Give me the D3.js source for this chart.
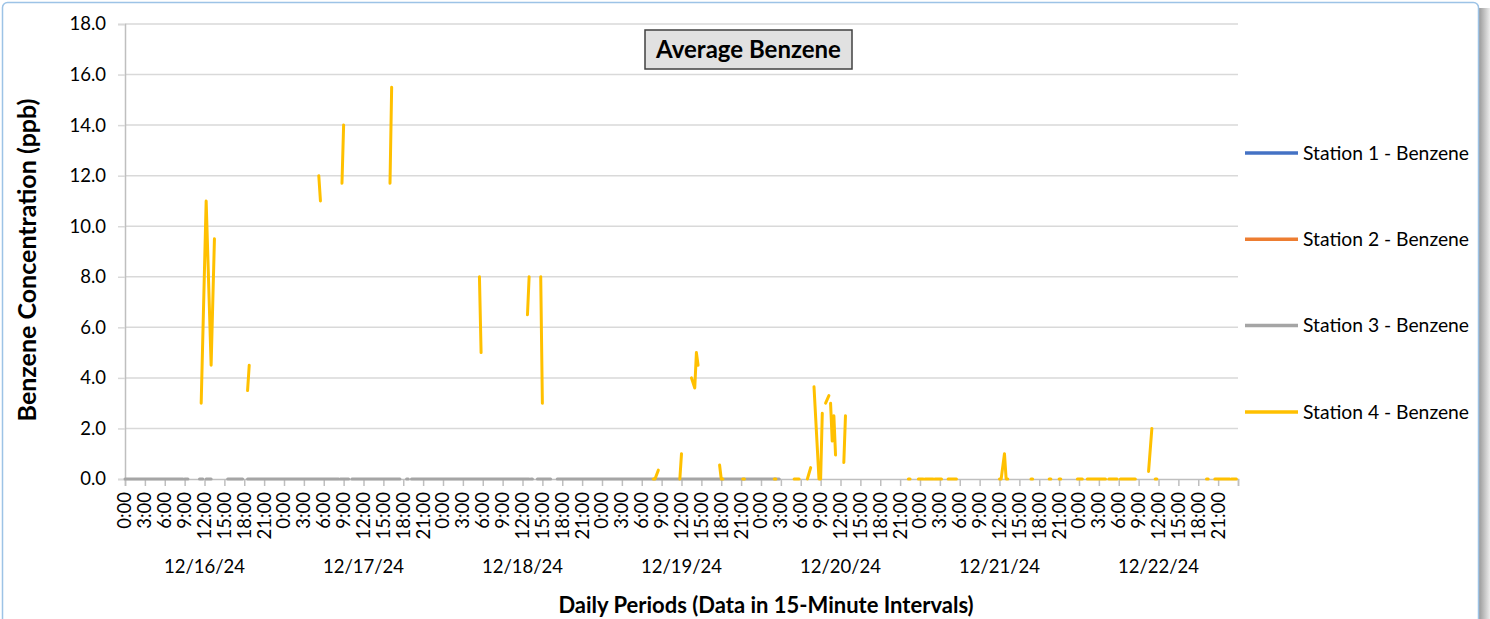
<!DOCTYPE html>
<html>
<head>
<meta charset="utf-8">
<script src="https://cdn.jsdelivr.net/npm/d3@7"></script>
<style>
	body { margin: 0; background: #fff; }
	svg { display: block; font-family: Lato, 'Open Sans', sans-serif; }
</style>
</head>
<body>
<div id="chart"></div>
<script>
// x values are hours since 12/16/24 0:00, y values are ppb
const dayLabels = ['12/16/24', '12/17/24', '12/18/24', '12/19/24', '12/20/24', '12/21/24', '12/22/24'];
const hourLabels = ['0:00', '3:00', '6:00', '9:00', '12:00', '15:00', '18:00', '21:00'];
const yTicks = [0, 2, 4, 6, 8, 10, 12, 14, 16, 18];
const seriesNames = ['Station 1 - Benzene', 'Station 2 - Benzene', 'Station 3 - Benzene', 'Station 4 - Benzene'];

// stations 1 and 2 have no readings in the period
const station1 = [];
const station2 = [];

// station 3 only reports zeros, with gaps
const station3 = [
	[[0, 0], [8.75, 0]],
	[[9, 0], [9.5, 0]],
	[[11.25, 0], [11.75, 0]],
	[[12.25, 0], [13, 0]],
	[[15.5, 0], [17.75, 0]],
	[[18.5, 0], [32.25, 0]],
	[[32.5, 0], [33.75, 0]],
	[[34.25, 0], [41.5, 0]],
	[[42.5, 0], [42.75, 0]],
	[[43.25, 0], [61, 0]],
	[[61.25, 0], [61.5, 0]],
	[[62.25, 0], [64.25, 0]],
	[[65.25, 0], [98.75, 0]]
];

// station 4 runs of consecutive readings
const station4 = [
	[[11.5, 3.0], [12.25, 11.0], [13, 4.5], [13.5, 9.5]],
	[[18.5, 3.5], [18.75, 4.5]],
	[[29.25, 12.0], [29.5, 11.0]],
	[[32.75, 11.7], [33, 14.0]],
	[[40, 11.7], [40.25, 15.5]],
	[[53.5, 8.0], [53.75, 5.0]],
	[[60.75, 6.5], [61, 8.0]],
	[[62.75, 8.0], [63, 3.0]],
	[[79.75, 0], [80, 0], [80.5, 0.35]],
	[[83.75, 0], [84, 1.0]],
	[[85.5, 4.0], [86, 3.6], [86.25, 5.0], [86.5, 4.5]],
	[[89.75, 0.55], [90, 0], [90.25, 0]],
	[[93.25, 0], [93.5, 0]],
	[[98, 0], [98.25, 0]],
	[[101, 0], [101.75, 0]],
	[[103, 0], [103.5, 0.45]],
	[[104, 3.65], [104.75, 0], [105, 0], [105.25, 2.6]],
	[[105.75, 3.0], [106.25, 3.3]],
	[[106.5, 3.0], [106.75, 1.5], [107, 2.5], [107.25, 0.95]],
	[[108.5, 0.65], [108.75, 2.5]],
	[[118.25, 0], [118.5, 0]],
	[[119.75, 0], [120.5, 0]],
	[[120.75, 0], [122, 0]],
	[[122.25, 0], [123.25, 0]],
	[[124.25, 0], [125.5, 0]],
	[[132, 0], [132.25, 0], [132.75, 1.0], [133, 0], [133.25, 0]],
	[[136.75, 0], [137, 0]],
	[[139.5, 0], [139.75, 0]],
	[[141, 0], [141.25, 0]],
	[[143.75, 0], [144.5, 0]],
	[[145.25, 0], [148, 0]],
	[[148.5, 0], [149.75, 0]],
	[[150.25, 0], [152.5, 0]],
	[[154.5, 0.3], [155, 2.0]],
	[[155.5, 0], [155.75, 0]],
	[[163.25, 0], [163.5, 0]],
	[[164.5, 0], [166.75, 0]],
	[[167, 0], [167.75, 0]]
];

const seriesData = [station1, station2, station3, station4];
const colors = ['#4472c4', '#ed7d31', '#a5a5a5', '#ffc000'];

const width = 1490,
	height = 619;
const plot = { left: 125, right: 1238, top: 24, bottom: 479 };
const fontSize = 18.5;

const svg = d3
	.select('#chart')
	.append('svg')
	.attr('width', width)
	.attr('height', height);

// chart frame with a soft shadow on the right
const defs = svg.append('defs');
const grad = defs.append('linearGradient').attr('id', 'shadow');
grad.append('stop').attr('offset', '0%').attr('stop-color', '#9a9a9a');
grad.append('stop').attr('offset', '100%').attr('stop-color', '#ececec');
svg.append('rect')
	.attr('x', 1479)
	.attr('y', 8)
	.attr('width', 11)
	.attr('height', height)
	.attr('fill', 'url(#shadow)');
svg.append('rect')
	.attr('x', 2.5)
	.attr('y', 2.5)
	.attr('width', 1476)
	.attr('height', height + 20)
	.attr('rx', 5)
	.attr('fill', '#fff')
	.attr('stroke', '#9dc3e6')
	.attr('stroke-width', 1.5);

const x = d3
	.scaleLinear()
	.domain([0, dayLabels.length * 24])
	.range([plot.left, plot.right]);
const y = d3.scaleLinear().domain([0, 18]).range([plot.bottom, plot.top]);

// gridlines
svg.append('g')
	.selectAll('line')
	.data(yTicks.filter((d) => d > 0))
	.join('line')
	.attr('x1', plot.left)
	.attr('x2', plot.right)
	.attr('y1', (d) => y(d))
	.attr('y2', (d) => y(d))
	.attr('stroke', '#d9d9d9')
	.attr('stroke-width', 1.5);

// Y axis
const yAxis = svg
	.append('g')
	.attr('transform', `translate(${plot.left},0)`)
	.call(
		d3
			.axisLeft(y)
			.tickValues(yTicks)
			.tickSize(7)
			.tickPadding(12)
			.tickFormat(d3.format('.1f'))
	);
yAxis.select('.domain').attr('stroke', '#bfbfbf').attr('stroke-width', 1.5);
yAxis.selectAll('.tick line').attr('stroke', '#d9d9d9').attr('stroke-width', 1.5);
yAxis.selectAll('.tick text')
	.attr('font-size', fontSize)
	.attr('font-family', 'Lato')
	.attr('fill', '#000');

// X axis, a tick every 3 hours
const hourTicks = d3.range(0, dayLabels.length * 24 + 1, 3);
const xAxis = svg
	.append('g')
	.attr('transform', `translate(0,${plot.bottom})`)
	.call(d3.axisBottom(x).tickValues(hourTicks).tickSize(7).tickFormat(''));
xAxis.select('.domain').attr('stroke', '#bfbfbf').attr('stroke-width', 1.5);
xAxis.selectAll('.tick line').attr('stroke', '#bfbfbf').attr('stroke-width', 1.5);

// hour labels, rotated
svg.append('g')
	.selectAll('text')
	.data(hourTicks.slice(0, -1))
	.join('text')
	.attr('transform', (d) => `translate(${x(d)},${plot.bottom + 13}) rotate(-90)`)
	.attr('text-anchor', 'end')
	.attr('dy', '0.35em')
	.attr('font-size', fontSize)
	.text((d, i) => hourLabels[i % hourLabels.length]);

// day labels
svg.append('g')
	.selectAll('text')
	.data(dayLabels)
	.join('text')
	.attr('x', (d, i) => x(i * 24 + 12))
	.attr('y', 567)
	.attr('dy', '0.35em')
	.attr('text-anchor', 'middle')
	.attr('font-size', fontSize)
	.text((d) => d);

// series lines
const line = d3
	.line()
	.x((d) => x(d[0]))
	.y((d) => y(d[1]));

seriesData.forEach((segments, i) => {
	svg.append('g')
		.selectAll('path')
		.data(segments)
		.join('path')
		.attr('fill', 'none')
		.attr('stroke', colors[i])
		.attr('stroke-width', 3)
		.attr('stroke-linecap', 'round')
		.attr('stroke-linejoin', 'round')
		.attr('d', line);
});

// chart title box
const title = svg.append('g').attr('transform', 'translate(748.5,49.5)');
title.append('rect')
	.attr('x', -103.5)
	.attr('y', -19.5)
	.attr('width', 207)
	.attr('height', 39)
	.attr('fill', '#e1e1e1')
	.attr('stroke', '#404040')
	.attr('stroke-width', 1.5);
title.append('text')
	.attr('text-anchor', 'middle')
	.attr('dy', '0.35em')
	.attr('font-size', 24)
	.attr('font-weight', 'bold')
	.text('Average Benzene');

// axis titles
svg.append('text')
	.attr('transform', 'translate(27,260) rotate(-90)')
	.attr('text-anchor', 'middle')
	.attr('dy', '0.35em')
	.attr('font-size', 25)
	.attr('font-weight', 'bold')
	.text('Benzene Concentration (ppb)');

svg.append('text')
	.attr('x', 766)
	.attr('y', 605)
	.attr('text-anchor', 'middle')
	.attr('dy', '0.35em')
	.attr('font-size', 22)
	.attr('font-weight', 'bold')
	.text('Daily Periods (Data in 15-Minute Intervals)');

// legend
const legend = svg
	.append('g')
	.selectAll('g')
	.data(seriesNames)
	.join('g')
	.attr('transform', (d, i) => `translate(1245,${153 + i * 86.3})`);
legend.append('line')
	.attr('x1', 0)
	.attr('x2', 53)
	.attr('stroke', (d, i) => colors[i])
	.attr('stroke-width', 3.5);
legend.append('text')
	.attr('x', 58)
	.attr('dy', '0.35em')
	.attr('font-size', 19.3)
	.text((d) => d);
</script>
</body>
</html>
